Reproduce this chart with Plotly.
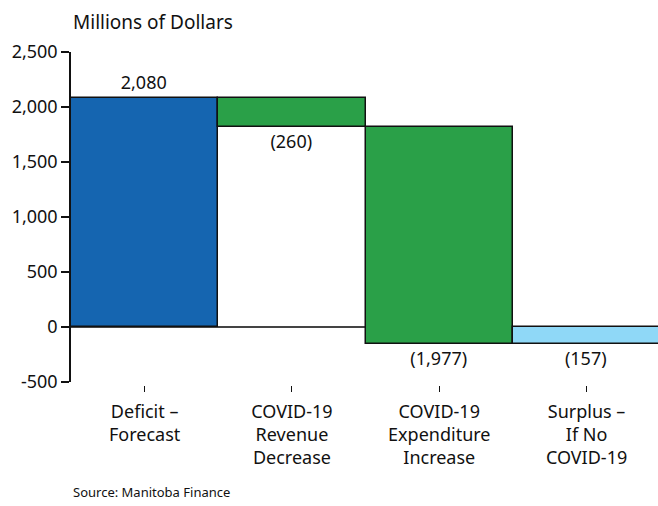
import plotly.graph_objects as go

categories = ["Deficit –<br>Forecast", "COVID-19<br>Revenue<br>Decrease",
              "COVID-19<br>Expenditure<br>Increase", "Surplus –<br>If No<br>COVID-19"]
values = [2080, -260, -1977, -157]
measures = ["relative", "relative", "relative", "total"]
y_ticks = [-500, 0, 500, 1000, 1500, 2000, 2500]
y_ticktext = ["-500", "0", "500", "1,000", "1,500", "2,000", "2,500"]

def fmt(v):
    return f"({abs(v):,})" if v < 0 else f"{v:,}"

labels = [fmt(v) for v in values]
FONT = "Noto Sans"

W, H = 658, 506
GAP = 3
L, R, T, B = 71, 0, 52, 124 - GAP
plot_h = H - T - B

fig = go.Figure(go.Waterfall(
    x=list(range(len(categories))),
    y=values,
    measure=measures,
    text=labels,
    textposition="outside",
    textfont=dict(family=FONT, size=18, color="#111"),
    cliponaxis=False,
    connector=dict(visible=False),
    increasing=dict(marker=dict(color="#1565b0", line=dict(color="#111", width=1.5))),
    decreasing=dict(marker=dict(color="#2aa048", line=dict(color="#111", width=1.5))),
    totals=dict(marker=dict(color="#8fd8f7", line=dict(color="#111", width=1.5))),
    hoverinfo="skip",
))

fig.update_layout(
    width=W, height=H,
    margin=dict(l=L, r=R, t=T, b=B, autoexpand=False),
    plot_bgcolor="white", paper_bgcolor="white",
    waterfallgap=0,
    showlegend=False,
    font=dict(family=FONT, size=18, color="#111"),
    xaxis=dict(
        tickmode="array",
        tickvals=list(range(len(categories))),
        ticktext=categories,
        range=[-0.5, 3.485],
        automargin=False,
        showline=False, showgrid=False, zeroline=False,
        ticks="outside", ticklen=6, tickwidth=1, tickcolor="#111",
        ticklabelstandoff=4,
        anchor="free", position=0,
        tickfont=dict(family=FONT, size=18, color="#111"),
    ),
    yaxis=dict(
        range=[-500, 2500],
        tickmode="array",
        tickvals=y_ticks,
        ticktext=y_ticktext,
        automargin=False,
        showline=True, linecolor="#111", linewidth=1.5,
        ticks="outside", ticklen=8, tickwidth=1.5, tickcolor="#111",
        showgrid=False,
        zeroline=True, zerolinecolor="#444", zerolinewidth=2,
        domain=[GAP / plot_h, 1],
        tickfont=dict(family=FONT, size=18, color="#111"),
    ),
    annotations=[
        dict(text="Millions of Dollars", xref="paper", yref="paper", x=0, y=1,
             xanchor="left", yanchor="middle", yshift=30, showarrow=False,
             font=dict(family=FONT, size=19, color="#111")),
        dict(text="Source: Manitoba Finance", xref="paper", yref="paper", x=0, y=0,
             xanchor="left", yanchor="middle", yshift=-107, showarrow=False,
             font=dict(family=FONT, size=13, color="#111")),
    ],
)

fig.write_html("out.html",
               config={"displayModeBar": False},
               post_script="document.body.style.margin='0';document.body.style.padding='0';")
